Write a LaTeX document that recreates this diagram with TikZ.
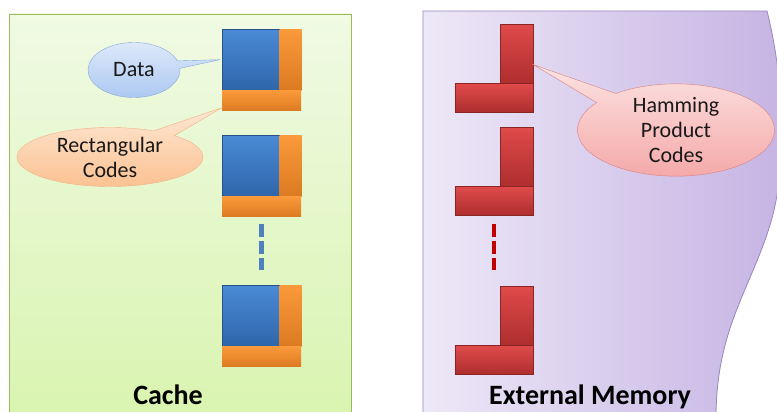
\documentclass[tikz,border=0pt]{standalone}
\usepackage{fontspec}
\setmainfont{Carlito}
\usepackage{xcolor}
\usepackage{tikz}
\usetikzlibrary{
  positioning,
  shapes.callouts
}
\definecolor{cacheedge}{HTML}{9BBB59}
\definecolor{cachetop}{HTML}{F0FAE4}
\definecolor{cachebot}{HTML}{D9F4B0}
\definecolor{memedge}{HTML}{9A86C0}
\definecolor{memleft}{HTML}{EDE8F7}
\definecolor{memright}{HTML}{C5B3E3}
\definecolor{bluetop}{HTML}{4A8AD6}
\definecolor{bluebot}{HTML}{2F66AA}
\definecolor{bluedash}{HTML}{4F81BD}
\definecolor{orangetop}{HTML}{FB9A3A}
\definecolor{orangebot}{HTML}{DC7A22}
\definecolor{redtop}{HTML}{E04A4A}
\definecolor{redbot}{HTML}{AE2E2E}
\definecolor{reddash}{HTML}{C00000}
\definecolor{datatop}{HTML}{E0EBFB}
\definecolor{databot}{HTML}{A9C6F0}
\definecolor{dataedge}{HTML}{86A9DD}
\definecolor{recttop}{HTML}{FEE7D4}
\definecolor{rectbot}{HTML}{FBC08F}
\definecolor{rectedge}{HTML}{F3B283}
\definecolor{hpctop}{HTML}{FDE3E3}
\definecolor{hpcbot}{HTML}{F4A6A6}
\definecolor{hpcedge}{HTML}{D98080}
\tikzset{
  datablk/.style={
    top color=bluetop, bottom color=bluebot, draw=bluebot!80!black,
    line width=0.3pt, inner sep=0pt, anchor=north west,
    minimum width=57pt, minimum height=61pt},
  sidebar/.style={
    top color=orangetop, bottom color=orangebot, inner sep=0pt,
    minimum width=22pt, minimum height=61pt},
  basebar/.style={
    top color=orangetop, bottom color=orangebot, inner sep=0pt,
    anchor=north west, minimum width=79pt, minimum height=20pt},
  hamvert/.style={
    top color=redtop, bottom color=redbot, draw=redbot!80!black,
    line width=0.3pt, inner sep=0pt, anchor=north west,
    minimum width=33pt, minimum height=59pt},
  hamhorz/.style={
    top color=redtop, bottom color=redbot, draw=redbot!80!black,
    line width=0.3pt, inner sep=0pt, anchor=north east,
    minimum width=78pt, minimum height=29pt},
  bubble/.style={
    ellipse callout, inner sep=0pt, align=center, callout pointer arc=16,
    font=\fontsize{22}{25}\selectfont, text=black!90},
  title/.style={
    anchor=base, inner sep=0pt, font=\fontsize{28}{30}\selectfont\bfseries},
  dots/.style={line width=4.5pt, dash pattern=on 13pt off 4pt}
}

\begin{document}
\begin{tikzpicture}[x=1pt, y=-1pt]
  \useasboundingbox (0,0) rectangle (777,412);

  % panels
  \draw[cacheedge, line width=0.8pt, top color=cachetop, bottom color=cachebot]
    (9,14) rectangle (351,418);
  \draw[memedge, line width=0.8pt, left color=memleft, right color=memright]
    (423,11) -- (767,11)
    .. controls (782,70) and (790,160) .. (770,225)
    .. controls (750,290) and (716,330) .. (716,418)
    -- (423,418) -- cycle;

  % cache blocks
  \node[datablk] (d1) at (222,29) {};
  \node[sidebar, right=0pt of d1] (s1) {};
  \node[basebar] (b1) at (d1.south west) {};

  \node[datablk] (d2) at (222,135) {};
  \node[sidebar, right=0pt of d2] (s2) {};
  \node[basebar] (b2) at (d2.south west) {};

  \node[datablk] (d3) at (222,285) {};
  \node[sidebar, right=0pt of d3] (s3) {};
  \node[basebar] (b3) at (d3.south west) {};

  \coordinate (gap1) at (b2.south |- d3.north);
  \draw[dots, bluedash] ([yshift=-7pt]b2.south) -- ([yshift=15pt]gap1);

  % memory blocks
  \node[hamvert] (v1) at (500,24) {};
  \node[hamhorz] (h1) at (v1.south east) {};

  \node[hamvert] (v2) at (500,127) {};
  \node[hamhorz] (h2) at (v2.south east) {};

  \node[hamvert] (v3) at (500,286) {};
  \node[hamhorz] (h3) at (v3.south east) {};

  \coordinate (gap2) at (h2.south |- v3.north);
  \draw[dots, reddash] ([yshift=-8pt]h2.south) -- ([yshift=16pt]gap2);

  % callouts
  \node[bubble, top color=datatop, bottom color=databot, draw=dataedge,
    minimum width=92pt, minimum height=55pt,
    callout absolute pointer={([xshift=-2pt]d1.west)}] (data) at (134,70) {Data};
  \node[bubble, top color=recttop, bottom color=rectbot, draw=rectedge,
    minimum width=186pt, minimum height=59pt,
    callout absolute pointer={([yshift=3pt]b1.south west)}] (rect) at (110,157) {Rectangular\\Codes};
  \node[bubble, top color=hpctop, bottom color=hpcbot, draw=hpcedge,
    minimum width=197pt, minimum height=76pt,
    callout absolute pointer={([yshift=-11pt]v1.east)}] (hpc) at (676,130) {Hamming\\Product\\Codes};

  % titles
  \node[title] (cache) at (168,404) {Cache};
  \node[title] (extmem) at (590,404) {External Memory};
\end{tikzpicture}
\end{document}
